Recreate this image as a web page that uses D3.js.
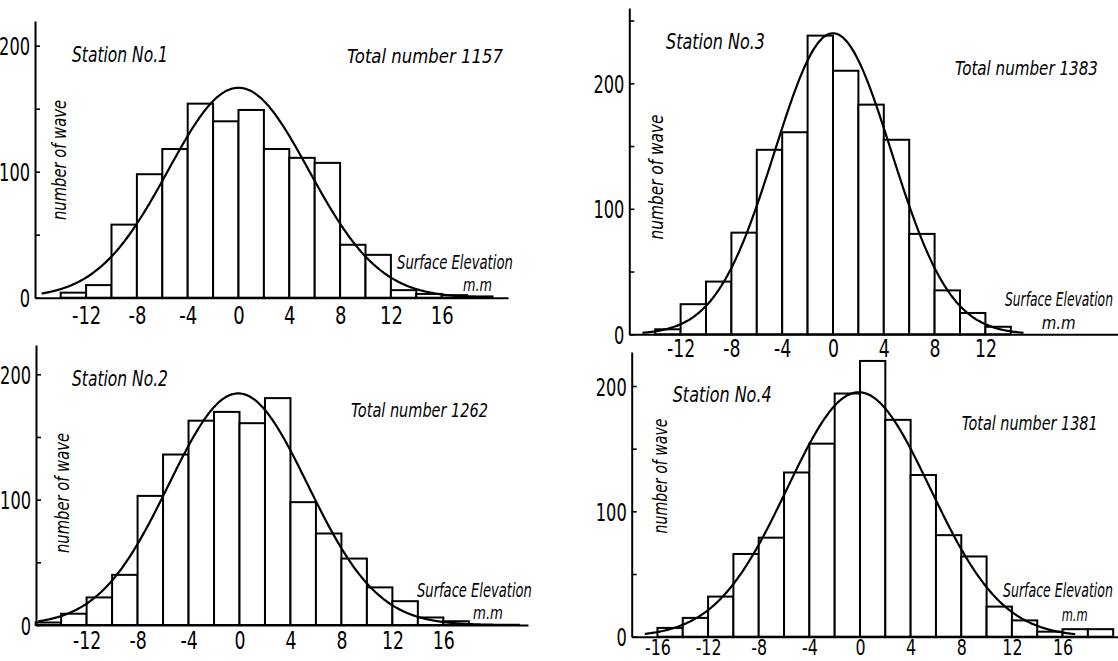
<!DOCTYPE html>
<html>
<head>
<meta charset="utf-8">
<script src="https://cdn.jsdelivr.net/npm/d3@7"></script>
<style>
  html, body { margin: 0; padding: 0; background: #fff; }
  svg { display: block; }
  text { font-family: "Liberation Sans Narrow", "DejaVu Sans Condensed", "Liberation Sans", sans-serif; fill: #000; }
</style>
</head>
<body>
<svg id="chart" width="1118" height="661"></svg>
<script>
// ---- data: wave counts per 2 mm class of surface elevation ----
const binLeft = [-16, -14, -12, -10, -8, -6, -4, -2, 0, 2, 4, 6, 8, 10, 12, 14, 16, 18];
const binWidth = 2;
const station1Counts = [0, 4, 10, 58, 98, 118, 154, 140, 149, 118, 111, 107, 42, 34, 6, 3, 2, 1];
const station2Counts = [2, 9, 22, 40, 103, 136, 163, 170, 161, 181, 98, 73, 53, 30, 19, 6, 3, 0];
const station3Counts = [0, 4, 24, 42, 81, 147, 161, 238, 210, 183, 155, 80, 35, 17, 6, 0, 0, 0];
const station4Counts = [7, 15, 32, 66, 79, 131, 154, 194, 220, 173, 129, 81, 64, 24, 13, 4, 6, 6];

const stationNames = ["Station No.1", "Station No.2", "Station No.3", "Station No.4"];
const totalNumbers = [1157, 1262, 1383, 1381];

// normal-distribution fit for each station (mean, standard deviation, drawn range)
const fitMean = [0, -0.1, 0, -0.1];
const fitSigma = [5.54, 5.45, 4.6, 5.65];
const curveFrom = [-15.5, -15.8, -15, -17];
const curveTo = [19, 22, 15, 17];

const xTicks1 = [-12, -8, -4, 0, 4, 8, 12, 16];
const xTicks2 = [-12, -8, -4, 0, 4, 8, 12, 16];
const xTicks3 = [-12, -8, -4, 0, 4, 8, 12];
const xTicks4 = [-16, -12, -8, -4, 0, 4, 8, 12, 16];
const yTicks = [0, 50, 100, 150, 200];
const yTicksTall = [0, 50, 100, 150, 200, 250];
const yLabelled = [0, 100, 200];

const countsByStation = [station1Counts, station2Counts, station3Counts, station4Counts];
const xTicksByStation = [xTicks1, xTicks2, xTicks3, xTicks4];
const yTicksByStation = [yTicks, yTicks, yTicksTall, yTicks];

// ---- page layout of the four panels ----
const layout = [
  { axisX: 35, zeroX: 238.5, unitX: 12.7, zeroY: 297.7, unitY: 1.26, top: 21, right: 508, tickPad: 9, xFont: 25,
    title: [72, 62, 96], total: [347, 63, 156], surf: [397, 269, 116], mm: [463, 291, 29], ylab: [60, 160, 120] },
  { axisX: 36, zeroX: 239.5, unitX: 12.74, zeroY: 625, unitY: 1.2535, top: 345, right: 528, tickPad: 7, xFont: 24,
    title: [72, 386, 96], total: [351, 417, 137], surf: [417, 597, 115], mm: [473, 619, 30], ylab: [63, 493, 120] },
  { axisX: 629.3, zeroX: 833, unitX: 12.7, zeroY: 334.3, unitY: 1.255, top: 8, right: 1118, tickPad: 6, xFont: 24,
    title: [666, 49, 99], total: [955, 75, 143], surf: [1005, 306, 108], mm: [1041.7, 329, 34], ylab: [656, 177, 125] },
  { axisX: 631.7, zeroX: 860, unitX: 12.66, zeroY: 636.7, unitY: 1.2535, top: 352, right: 1118, tickPad: 3, xFont: 22,
    title: [672.7, 402, 99], total: [961.7, 430, 136], surf: [1003, 597, 110], mm: [1061.7, 621, 26], ylab: [660, 476, 115] }
];

const svg = d3.select("#chart");
svg.append("rect").attr("width", 1118).attr("height", 661).attr("fill", "#fff");

// italic lettering squeezed horizontally to a given width
function italicText(g, txt, pos, size) {
  const t = g.append("text")
    .attr("font-size", size)
    .attr("font-style", "italic")
    .text(txt);
  const w = t.node().getComputedTextLength();
  t.attr("transform", `translate(${pos[0]},${pos[1]}) scale(${pos[2] / w},1)`);
}

layout.forEach((L, i) => {
  const g = svg.append("g");
  const counts = countsByStation[i];

  const x = d3.scaleLinear()
    .domain([(L.axisX - L.zeroX) / L.unitX, (L.right - L.zeroX) / L.unitX])
    .range([L.axisX, L.right]);
  const y = d3.scaleLinear()
    .domain([0, (L.zeroY - L.top) / L.unitY])
    .range([L.zeroY, L.top]);

  // histogram bars
  const bins = binLeft.map((b, k) => ({ lo: b, hi: b + binWidth, n: counts[k] })).filter(d => d.n > 0);
  g.append("g").selectAll("rect").data(bins).join("rect")
    .attr("x", d => x(d.lo))
    .attr("width", d => x(d.hi) - x(d.lo))
    .attr("y", d => y(d.n))
    .attr("height", d => y(0) - y(d.n))
    .attr("fill", "#fff")
    .attr("stroke", "#000")
    .attr("stroke-width", 2);

  // fitted normal curve
  const mu = fitMean[i], sd = fitSigma[i];
  const amp = totalNumbers[i] * binWidth / (sd * Math.sqrt(2 * Math.PI));
  const pts = d3.range(curveFrom[i], curveTo[i] + 1e-9, 0.1)
    .map(v => [v, amp * Math.exp(-((v - mu) ** 2) / (2 * sd * sd))]);
  g.append("path")
    .attr("d", d3.line().x(d => x(d[0])).y(d => y(d[1])).curve(d3.curveBasis)(pts))
    .attr("fill", "none")
    .attr("stroke", "#000")
    .attr("stroke-width", 2.2);

  // y axis: ticks point inward, labels at every 100
  const ySx = 0.72;
  const ya = g.append("g")
    .attr("transform", `translate(${L.axisX},0)`)
    .call(d3.axisLeft(y).tickValues(yTicksByStation[i]).tickSize(-5).tickSizeOuter(0)
      .tickPadding(5).tickFormat(d => yLabelled.includes(d) ? d : ""));
  ya.select(".domain").attr("stroke-width", 2).attr("stroke", "#000");
  ya.selectAll(".tick line").attr("stroke-width", 1.6).attr("stroke", "#000");
  ya.selectAll(".tick text")
    .attr("font-family", null)
    .attr("font-size", 25)
    .attr("x", -5 / ySx)
    .attr("dy", "0.36em")
    .attr("transform", `scale(${ySx},1)`);
  ya.attr("font-family", null).attr("font-size", null);

  // x axis along the zero line
  const xSx = 0.8;
  const xa = g.append("g")
    .attr("transform", `translate(0,${L.zeroY})`)
    .call(d3.axisBottom(x).tickValues(xTicksByStation[i]).tickSize(0).tickSizeOuter(0)
      .tickPadding(L.tickPad).tickFormat(d => d < 0 ? "-" + Math.abs(d) : String(d)));
  xa.select(".domain").attr("stroke-width", 2).attr("stroke", "#000");
  xa.selectAll(".tick text")
    .attr("font-family", null)
    .attr("font-size", L.xFont)
    .attr("transform", `scale(${xSx},1)`)
    .attr("x", 0);
  xa.attr("font-family", null).attr("font-size", null);

  // annotations
  italicText(g, stationNames[i], L.title, 21);
  italicText(g, "Total number " + totalNumbers[i], L.total, 20);
  italicText(g, "Surface Elevation", L.surf, 19);
  italicText(g, "m.m", L.mm, 17);

  const yl = g.append("text")
    .attr("text-anchor", "middle")
    .attr("dominant-baseline", "central")
    .attr("font-size", 19)
    .attr("font-style", "italic")
    .text("number of wave");
  const ylw = yl.node().getComputedTextLength();
  yl.attr("transform", `translate(${L.ylab[0]},${L.ylab[1]}) rotate(-90) scale(${L.ylab[2] / ylw},1)`);
});
</script>
</body>
</html>
